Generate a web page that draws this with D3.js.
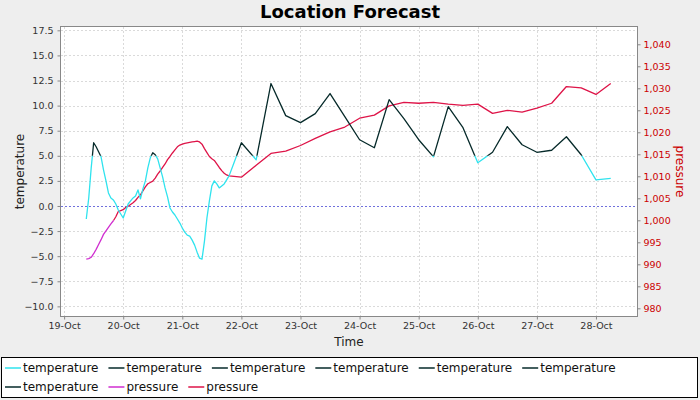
<!DOCTYPE html>
<html>
<head>
<meta charset="utf-8">
<script src="https://cdn.jsdelivr.net/npm/d3@7"></script>
<style>
  body { margin: 0; background: #eeeeee; }
  svg { display: block; font-family: "DejaVu Sans", sans-serif; }
</style>
</head>
<body>
<svg id="chart" width="700" height="400"></svg>
<script>
// readings: "DD HH" in October, hourly first then 6-hourly
var times = [
  "19 09", "19 10", "19 11", "19 12", "19 13", "19 14", "19 15", "19 16", "19 17", "19 18",
  "19 19", "19 20", "19 21", "19 22", "19 23", "20 00", "20 01", "20 02", "20 03", "20 04",
  "20 05", "20 06", "20 07", "20 08", "20 09", "20 10", "20 11", "20 12", "20 13", "20 14",
  "20 15", "20 16", "20 17", "20 18", "20 19", "20 20", "20 21", "20 22", "20 23", "21 00",
  "21 01", "21 02", "21 03", "21 04", "21 05", "21 06", "21 07", "21 08", "21 09", "21 10",
  "21 11", "21 12", "21 13", "21 14", "21 15", "21 16", "21 17", "21 18", "21 19", "21 21",
  "22 00", "22 06", "22 12", "22 18", "23 00", "23 06", "23 12", "23 18", "24 00", "24 06",
  "24 12", "24 18", "25 00", "25 06", "25 12", "25 18", "26 00", "26 06", "26 12", "26 18",
  "27 00", "27 06", "27 12", "27 18", "28 00", "28 06"
];
var temperature = [
  -1.3, 0.8, 3.8, 6.3, 5.9, 5.4, 4.9, 3.6, 2.5, 1.3,
  0.8, 0.6, 0.2, -0.4, -0.8, -1.2, -0.5, 0.2, 0.5, 0.8,
  1.0, 1.6, 0.7, 1.7, 2.5, 3.8, 4.8, 5.3, 5.1, 4.7,
  3.8, 2.9, 1.8, 0.9, -0.2, -0.6, -0.9, -1.3, -1.7, -2.2,
  -2.6, -2.9, -3.0, -3.4, -3.9, -4.6, -5.2, -5.3, -3.5, -1.2,
  0.5, 2.0, 2.5, 2.2, 1.8, 2.0, 2.2, 2.6, 3.0, 4.3,
  6.3, 4.6, 12.2, 9.0, 8.3, 9.2, 11.2, 8.9, 6.6, 5.8,
  10.6, 8.7, 6.6, 4.9, 9.9, 7.8, 4.3, 5.35, 7.9, 6.1,
  5.35, 5.55, 6.9, 5.1, 2.6, 2.75
];
var pressure = [
  991.2, 991.3, 991.6, 992.4, 993.4, 994.5, 995.6, 996.8, 997.6, 998.4,
  999.2, 999.9, 1000.8, 1002.0, 1002.2, 1002.4, 1002.9, 1003.2, 1003.6, 1004.0,
  1004.5, 1005.2, 1005.8, 1006.7, 1007.6, 1008.3, 1008.6, 1008.9, 1009.6, 1010.5,
  1011.2, 1012.0, 1012.8, 1013.8, 1014.5, 1015.3, 1016.0, 1016.7, 1017.1, 1017.3,
  1017.5, 1017.6, 1017.7, 1017.8, 1017.9, 1018.0, 1017.8, 1017.3, 1016.3, 1015.4,
  1014.5, 1014.0, 1013.6, 1012.8, 1012.0, 1011.3, 1010.7, 1010.3, 1010.1, 1010.0,
  1009.8, 1012.5, 1015.2, 1015.7, 1017.0, 1018.6, 1020.1, 1021.2, 1023.2, 1023.9,
  1026.0, 1026.8, 1026.6, 1026.8, 1026.4, 1026.1, 1026.4, 1024.3, 1025.0, 1024.6,
  1025.5, 1026.6, 1030.4, 1030.1, 1028.6, 1031.1
];
var tempTicks = [-10, -7.5, -5, -2.5, 0, 2.5, 5, 7.5, 10, 12.5, 15, 17.5];
var pressureTicks = [980, 985, 990, 995, 1000, 1005, 1010, 1015, 1020, 1025, 1030, 1035, 1040];
var dayTicks = ["19", "20", "21", "22", "23", "24", "25", "26", "27", "28"];
var legendNames = ["temperature", "temperature", "temperature", "temperature", "temperature",
  "temperature", "temperature", "pressure", "pressure"];

var tempSplit = 5;       // above this the temperature series is drawn dark
var pressureSplit = 1000; // below this the pressure series is magenta

var cyan = "#2fe3ee", dark = "#062a2a", magenta = "#d02ed0", red = "#de1448";
var legendColors = [cyan, dark, dark, dark, dark, dark, dark, magenta, red];

var svg = d3.select("#chart");
var plotL = 61, plotR = 637, plotT = 27, plotB = 316;

var parse = d3.timeParse("%Y-%m-%d %H");
var rows = times.map(function (s, i) {
  return { t: parse("2023-10-" + s), temp: temperature[i], pres: pressure[i] };
});

var x = d3.scaleTime()
  .domain([new Date(2023, 9, 18, 22, 44), new Date(2023, 9, 28, 16, 40)])
  .range([plotL, plotR]);
var yT = d3.scaleLinear().domain([-10.96, 17.83]).range([plotB, plotT]);
var yP = d3.scaleLinear().domain([978.25, 1043.93]).range([plotB, plotT]);

svg.append("rect").attr("width", 700).attr("height", 400).attr("fill", "#eeeeee");

// title
svg.append("text")
  .attr("x", 350).attr("y", 18)
  .attr("text-anchor", "middle")
  .style("font-size", "18px").style("font-weight", "bold")
  .text("Location Forecast");

svg.append("rect")
  .attr("x", plotL).attr("y", plotT)
  .attr("width", plotR - plotL).attr("height", plotB - plotT)
  .attr("fill", "white");

var dayDates = dayTicks.map(function (d) { return parse("2023-10-" + d + " 00"); });

// grid
var grid = svg.append("g").attr("stroke", "#dadada").attr("stroke-dasharray", "2,2");
grid.selectAll(".gx").data(dayDates).enter().append("line")
  .attr("x1", function (d) { return Math.round(x(d)) + 0.5; })
  .attr("x2", function (d) { return Math.round(x(d)) + 0.5; })
  .attr("y1", plotT).attr("y2", plotB);
grid.selectAll(".gy").data(tempTicks).enter().append("line")
  .attr("x1", plotL).attr("x2", plotR)
  .attr("y1", function (d) { return Math.round(yT(d)) + 0.5; })
  .attr("y2", function (d) { return Math.round(yT(d)) + 0.5; });

// zero marker
svg.append("line")
  .attr("x1", plotL).attr("x2", plotR)
  .attr("y1", Math.round(yT(0)) + 0.5).attr("y2", Math.round(yT(0)) + 0.5)
  .attr("stroke", "#7070dc").attr("stroke-dasharray", "2,2");

// clips for the split series
var defs = svg.append("defs");
function clip(id, y0, y1) {
  defs.append("clipPath").attr("id", id).append("rect")
    .attr("x", plotL).attr("y", y0).attr("width", plotR - plotL).attr("height", y1 - y0);
}
clip("tHigh", plotT, yT(tempSplit));
clip("tLow", yT(tempSplit), plotB);
clip("pHigh", plotT, yP(pressureSplit));
clip("pLow", yP(pressureSplit), plotB);

var tLine = d3.line().x(function (d) { return x(d.t); }).y(function (d) { return yT(d.temp); });
var pLine = d3.line().x(function (d) { return x(d.t); }).y(function (d) { return yP(d.pres); });

function draw(gen, color, clipId) {
  svg.append("path").datum(rows)
    .attr("d", gen)
    .attr("fill", "none")
    .attr("stroke", color)
    .attr("stroke-width", 1.3)
    .attr("stroke-linejoin", "round")
    .attr("clip-path", "url(#" + clipId + ")");
}
draw(pLine, magenta, "pLow");
draw(pLine, red, "pHigh");
draw(tLine, cyan, "tLow");
draw(tLine, dark, "tHigh");

// outline
svg.append("rect")
  .attr("x", plotL - 0.5).attr("y", plotT - 0.5)
  .attr("width", plotR - plotL + 1).attr("height", plotB - plotT + 1)
  .attr("fill", "none").attr("stroke", "#888");

// axes
var fmtDay = d3.timeFormat("%d-%b");
var xAxis = svg.append("g")
  .attr("transform", "translate(0," + (plotB + 0.5) + ")")
  .call(d3.axisBottom(x).tickValues(dayDates).tickFormat(fmtDay).tickSize(3).tickPadding(3));
var yAxis = svg.append("g")
  .attr("transform", "translate(" + (plotL - 0.5) + ",0)")
  .call(d3.axisLeft(yT).tickValues(tempTicks).tickFormat(d3.format(".1f")).tickSize(3).tickPadding(4));
var pAxis = svg.append("g")
  .attr("transform", "translate(" + (plotR + 0.5) + ",0)")
  .call(d3.axisRight(yP).tickValues(pressureTicks).tickFormat(d3.format(",")).tickSize(3).tickPadding(3));

[xAxis, yAxis, pAxis].forEach(function (a) {
  a.select(".domain").remove();
  a.selectAll("line").attr("stroke", "#888");
  a.selectAll("text").style("font-size", "9.5px").attr("font-family", "DejaVu Sans").attr("fill", "#333");
});
pAxis.selectAll("text").attr("fill", "#cc0000");

// axis titles
svg.append("text")
  .attr("x", (plotL + plotR) / 2).attr("y", 346)
  .attr("text-anchor", "middle")
  .style("font-size", "12px").attr("fill", "#222")
  .text("Time");
svg.append("text")
  .attr("transform", "translate(24," + (plotT + plotB) / 2 + ") rotate(-90)")
  .attr("text-anchor", "middle")
  .style("font-size", "12px").attr("fill", "#222")
  .text("temperature");
svg.append("text")
  .attr("transform", "translate(676," + (plotT + plotB) / 2 + ") rotate(90)")
  .attr("text-anchor", "middle")
  .style("font-size", "12px").attr("fill", "#cc0000")
  .text("pressure");

// legend
svg.append("rect")
  .attr("x", 1.5).attr("y", 357.5).attr("width", 696).attr("height", 40)
  .attr("fill", "white").attr("stroke", "black");

var lx = 5, row = 0;
legendNames.forEach(function (name, i) {
  var g = svg.append("g");
  var label = g.append("text")
    .attr("x", 18).attr("y", 4)
    .style("font-size", "12px").attr("fill", "#111")
    .text(name);
  var w = 18 + label.node().getComputedTextLength() + 10;
  if (lx + w > 696) { lx = 5; row += 1; }
  g.attr("transform", "translate(" + lx + "," + (368 + row * 19) + ")");
  g.append("line")
    .attr("x1", 0).attr("x2", 16).attr("y1", 0).attr("y2", 0)
    .attr("stroke", legendColors[i]).attr("stroke-width", 1.5);
  lx += w;
});
</script>
</body>
</html>
